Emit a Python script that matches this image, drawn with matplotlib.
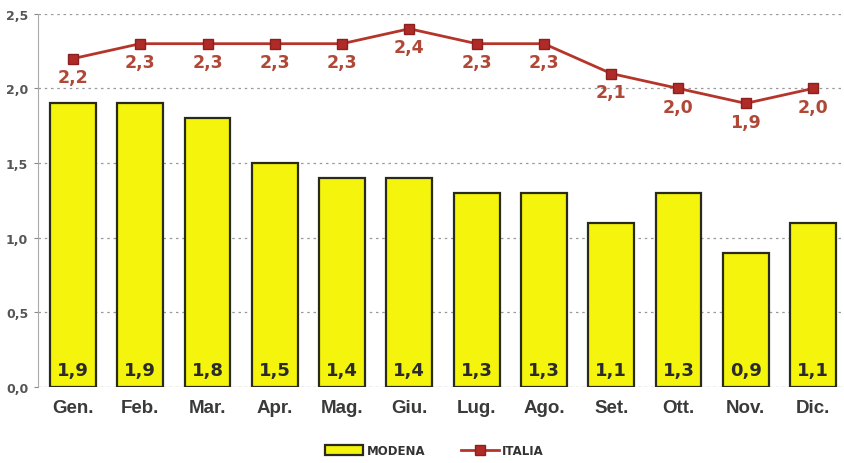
import matplotlib.pyplot as plt
from matplotlib.patches import Patch
from matplotlib.lines import Line2D

months = ['Gen.', 'Feb.', 'Mar.', 'Apr.', 'Mag.', 'Giu.', 'Lug.', 'Ago.', 'Set.', 'Ott.', 'Nov.', 'Dic.']
modena = [1.9, 1.9, 1.8, 1.5, 1.4, 1.4, 1.3, 1.3, 1.1, 1.3, 0.9, 1.1]
italia = [2.2, 2.3, 2.3, 2.3, 2.3, 2.4, 2.3, 2.3, 2.1, 2.0, 1.9, 2.0]
yticks = [0.0, 0.5, 1.0, 1.5, 2.0, 2.5]

def fmt(v):
    return ('%.1f' % v).replace('.', ',')

fig = plt.figure(figsize=(8.44, 4.64), dpi=100)
ax = fig.add_axes([0.045, 0.164, 0.955, 0.804])

x = list(range(len(months)))
ax.bar(x, modena, width=0.68, color='#f4f40c', edgecolor='#2a2a1a', linewidth=1.6, zorder=2)
ax.plot(x, italia, color='#b5352b', linewidth=2, marker='s', markersize=7,
        markerfacecolor='#b02a28', markeredgecolor='#8a2020', zorder=3)

for i in x:
    ax.text(i, 0.11, fmt(modena[i]), ha='center', va='center', fontsize=13,
            fontweight='bold', color='#2b2b2b', family='DejaVu Sans', zorder=4)
    ax.text(i, italia[i] - 0.125, fmt(italia[i]), ha='center', va='center', fontsize=12.5,
            fontweight='bold', color='#b04838', family='DejaVu Sans', zorder=4)

ax.set_xlim(-0.52, 11.46)
ax.set_ylim(0, 2.5)
ax.set_yticks(yticks)
ax.set_yticklabels([fmt(v) for v in yticks], fontsize=9, fontweight='bold', color='#555555')
ax.set_xticks(x)
ax.set_xticklabels(months, fontsize=13.5, fontweight='bold', color='#3a3a3a', family='Liberation Sans')
ax.tick_params(axis='x', length=0, pad=9)
ax.tick_params(axis='y', length=3, color='#888888', pad=4)

ax.grid(axis='y', linestyle=(0, (2, 3)), color='#999999', linewidth=0.9, zorder=0)
for s in ['top', 'right', 'bottom']:
    ax.spines[s].set_visible(False)
ax.spines['left'].set_color('#aaaaaa')
ax.axhline(0, color='#aaaaaa', linewidth=0.8, zorder=1)

handles = [Patch(facecolor='#f4f40c', edgecolor='#2a2a1a', linewidth=1.6),
           Line2D([], [], color='#b5352b', linewidth=2, marker='s', markersize=7,
                  markerfacecolor='#b02a28', markeredgecolor='#8a2020')]
leg = fig.legend(handles, ['MODENA', 'ITALIA'], loc='lower center', bbox_to_anchor=(0.515, -0.01),
                 ncol=2, frameon=False, handletextpad=0.3,
                 prop={'family': 'DejaVu Sans', 'weight': 'bold', 'size': 8.5},
                 handlelength=3.2, handleheight=0.9, columnspacing=3)
for t in leg.get_texts():
    t.set_color('#333333')

fig.savefig('out.png', dpi=100)
